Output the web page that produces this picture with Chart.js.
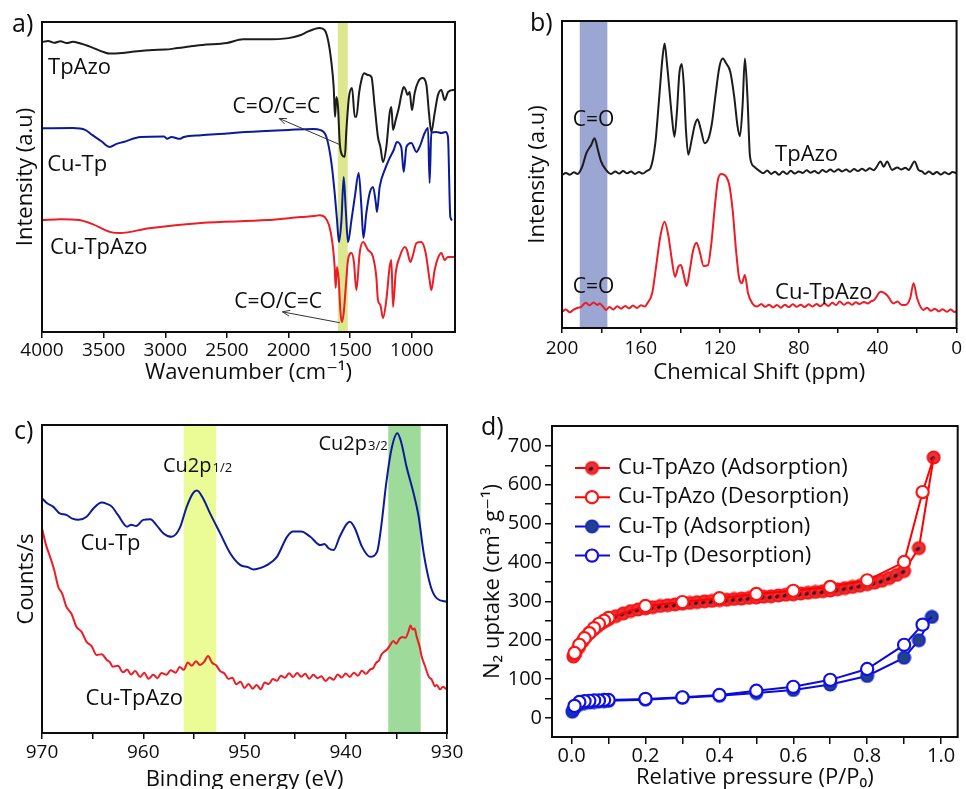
<!DOCTYPE html>
<html><head><meta charset="utf-8">
<script src="https://cdn.jsdelivr.net/npm/chart.js@4.4.1/dist/chart.umd.min.js"></script>
<style>
html,body{margin:0;padding:0;background:#fff;overflow:hidden;width:966px;height:789px;position:relative;}
canvas{position:absolute;}
#ca{left:0;top:0}
#cb{left:480px;top:0}
#cc{left:0;top:395px}
#cd{left:480px;top:395px}
</style></head><body>
<canvas id="ca" width="480" height="395"></canvas>
<canvas id="cb" width="486" height="395"></canvas>
<canvas id="cc" width="480" height="410"></canvas>
<canvas id="cd" width="486" height="410"></canvas>
<script>
// ---------- Panel a : FT-IR (wavenumber, intensity a.u.) ----------
const aTicks = [4000,3500,3000,2500,2000,1500,1000];
const aTickLabels = ['4000','3500','3000','2500','2000','1500','1000'];
const aBand = [1600,1520];
const aTpAzo = [[4000,93.5],[3950,93.9],[3900,93.3],[3850,93.8],[3800,93.2],[3750,93.6],[3700,93.2],[3600,91.9],[3500,90.3],[3450,89.8],[3350,90.0],[3250,90.5],[3100,91.0],[3000,91.1],[2900,91.6],[2700,92.6],[2500,93.2],[2370,94.4],[2200,94.4],[2000,94.8],[1900,95.8],[1850,96.8],[1800,97.6],[1747,98.1],[1707,97.4],[1680,94.2],[1652,86.8],[1634,79.0],[1623,69.4],[1612,75.8],[1599,72.6],[1585,61.0],[1566,57.1],[1544,56.5],[1531,65.2],[1510,75.8],[1485,78.7],[1463,69.4],[1450,69.4],[1428,77.1],[1409,81.3],[1388,83.5],[1356,82.9],[1328,82.3],[1301,72.6],[1275,62.9],[1255,59.7],[1234,54.8],[1207,59.7],[1180,70.6],[1166,72.6],[1153,65.2],[1131,68.4],[1104,72.6],[1085,76.5],[1066,79.0],[1050,78.1],[1036,76.5],[1018,77.4],[999,71.6],[977,77.1],[950,80.6],[915,81.9],[882,79.7],[861,70.6],[842,64.5],[815,70.6],[788,76.5],[761,78.1],[734,74.8],[707,77.4],[667,78.1],[650,78.1]];
const aCuTp = [[4000,65.7],[3750,65.8],[3650,65.2],[3590,63.5],[3520,61.6],[3450,59.7],[3400,60.6],[3340,61.3],[3200,62.9],[3010,63.1],[2985,62.3],[2950,62.9],[2880,62.3],[2850,62.9],[2710,63.5],[2500,64.0],[2350,64.5],[2000,65.2],[1800,65.5],[1747,65.2],[1693,62.9],[1652,54.5],[1626,44.8],[1607,36.1],[1591,29.0],[1571,36.1],[1553,50.0],[1536,39.4],[1518,29.0],[1490,36.1],[1463,43.5],[1431,51.3],[1409,40.3],[1393,30.3],[1369,38.4],[1342,44.8],[1315,46.8],[1293,41.9],[1283,38.7],[1261,46.8],[1220,52.3],[1180,56.1],[1147,58.7],[1121,61.3],[1085,59.4],[1066,51.6],[1044,59.7],[1004,61.0],[963,58.1],[937,59.7],[896,64.2],[869,65.8],[856,48.1],[842,64.2],[801,64.5],[761,64.2],[726,64.5],[707,62.9],[688,37.1],[672,36.1]];
const aCuTpAzo = [[4000,36.1],[3850,36.4],[3700,36.1],[3590,34.8],[3450,32.3],[3370,31.9],[3130,33.5],[2710,35.2],[2170,36.1],[1900,37.1],[1790,37.4],[1747,37.7],[1707,37.1],[1672,34.5],[1644,28.7],[1626,21.0],[1618,14.2],[1607,21.0],[1593,16.8],[1580,7.1],[1569,3.2],[1553,6.1],[1536,14.5],[1518,23.2],[1490,25.5],[1470,22.6],[1450,13.5],[1423,25.5],[1396,29.0],[1356,26.5],[1315,24.2],[1288,17.7],[1275,10.3],[1255,8.7],[1234,4.5],[1207,10.3],[1180,21.0],[1166,23.2],[1153,8.1],[1131,19.0],[1099,24.2],[1058,27.4],[1040,26.5],[1012,22.6],[991,24.8],[963,28.7],[923,29.0],[888,25.5],[856,16.8],[842,13.5],[815,20.0],[788,23.9],[761,25.5],[734,23.2],[707,24.2],[667,24.2],[650,24.2]];

// ---------- Panel b : 13C NMR (ppm, intensity a.u.) ----------
const bTicks = [200,180,160,140,120,100,80,60,40,20,0];
const bTickLabels = ['200','','160','','120','','80','','40','','0'];
const bBand = [191,177];
const bTpAzo = [[200,49.8],[198,50.5],[196,49.9],[194,50.7],[192,50.2],[191,50.9],[189.5,53.0],[187.7,56.9],[185.2,59.6],[183.5,61.8],[181.8,58.0],[180.2,54.3],[177.7,51.5],[175.2,50.2],[173,51.0],[171,50.3],[169,51.1],[167,50.4],[165,51.0],[163,50.2],[161,50.8],[159,50.3],[157,51.2],[155.2,52.0],[152.7,60.2],[150.7,75.3],[149,88.4],[148,92.7],[146.8,86.2],[145.7,78.6],[144.3,68.8],[143,62.3],[141.8,69.9],[140.5,83.0],[139.3,86.0],[138.2,78.6],[137.2,64.8],[136,56.4],[134.3,61.2],[132.7,66.1],[131.3,68.0],[129.7,64.8],[127.7,60.2],[125.7,61.8],[124,66.7],[122.3,75.3],[120.2,85.1],[118.5,87.8],[116.8,86.2],[114.7,83.5],[112.7,75.3],[111,65.6],[109.8,62.5],[108.5,72.1],[107.3,87.8],[106,75.3],[104.7,55.8],[102.7,52.6],[100,51.2],[98,50.4],[96,51.3],[94,50.2],[92,50.9],[90,49.9],[88,51.0],[86,50.2],[84,51.2],[82,50.3],[80,51.0],[78,50.5],[76,51.4],[74,50.6],[72,51.1],[70,50.4],[68,51.5],[66,50.8],[64,51.6],[62,50.9],[60,51.7],[58,51.0],[56,51.6],[54,50.9],[52,51.8],[50,51.1],[48,51.9],[46,51.2],[44,52.0],[42,51.4],[41,52.0],[38.5,54.2],[37,52.5],[35.2,54.2],[32.7,51.5],[30,52.3],[28,51.6],[26,52.2],[24.3,51.5],[21.3,54.2],[19.3,51.5],[17.5,51.0],[16,50.2],[14,51.0],[12,50.1],[10,50.8],[8,50.0],[6,50.7],[4,50.1],[2,50.8],[0,50.4]];
const bCuTpAzo = [[200,5.3],[198,6.0],[196,5.1],[194.3,5.9],[192,6.6],[190.2,6.9],[188,8.2],[186,7.4],[184,8.3],[182,7.5],[181,8.0],[179,6.8],[177.7,5.9],[176,6.8],[174,6.0],[172,7.1],[170,6.3],[168,7.2],[166,6.4],[164,7.3],[162,6.5],[160,7.4],[158,7.0],[156.8,8.0],[154.3,11.3],[152.3,20.0],[150.2,29.7],[148,34.6],[146,29.7],[144.3,22.1],[142.7,16.7],[141,20.0],[139.7,20.5],[138.3,17.3],[136.8,13.7],[135.2,18.9],[133.5,25.4],[131.8,27.8],[130.2,24.9],[128.2,20.2],[126,20.5],[124.3,27.6],[122.7,38.4],[121,48.2],[119.3,50.2],[116.8,49.3],[115.2,46.6],[113.5,38.4],[111.8,25.4],[110.2,16.2],[108.8,14.6],[107.3,17.3],[105.7,11.3],[103.5,8.0],[101,7.0],[99,7.8],[97,6.9],[95,7.6],[93,6.7],[91,7.5],[89,6.6],[87,7.6],[85,6.8],[83,7.7],[81,6.9],[79,7.6],[77,6.8],[75,7.7],[73,7.0],[71,7.8],[69,7.1],[67,8.0],[65,7.2],[63,8.2],[61,7.5],[59.3,8.6],[57,7.6],[55,8.3],[53,7.6],[51,8.4],[49.3,7.8],[47,8.5],[45,8.0],[43,8.8],[41.8,9.1],[38.5,11.8],[35.2,10.7],[32,8.0],[30,8.6],[28,7.6],[26,7.5],[23.5,9.7],[21.8,14.6],[20,9.7],[16.8,5.9],[15,6.6],[13,5.6],[11,6.3],[9,5.4],[7,6.1],[5,5.3],[3,6.0],[1,5.2],[0,5.4]];

// ---------- Panel c : XPS Cu2p (binding energy eV, counts) ----------
const cTicks = [970,965,960,955,950,945,940,935,930];
const cTickLabels = ['970','','960','','950','','940','','930'];
const cBand12 = [956.0,952.8];
const cBand32 = [935.8,932.6];
const cCuTp = [[970,76.2],[969.5,74.6],[968.9,73.5],[968.3,71.4],[967.6,70.8],[967,69.6],[966.4,69.2],[965.6,70.2],[964.9,73.0],[964.1,74.8],[963.6,74.4],[963.1,73.5],[962.5,70.8],[961.6,67.0],[961.2,67.6],[960.7,67.2],[960,69.2],[959.3,69.4],[958.7,67.5],[958,64.8],[957.2,63.7],[956.4,66.5],[955.7,73.5],[955.1,77.8],[954.7,78.7],[954.1,76.2],[953.4,71.3],[952.4,64.8],[951.4,58.3],[950.4,54.5],[949.7,53.9],[949.1,53.1],[948.4,53.6],[947.8,54.5],[946.8,57.2],[945.8,63.7],[945.2,65.4],[944.4,65.4],[943.5,63.7],[942.5,61.0],[942.1,61.4],[941.7,60.0],[941.2,59.4],[940.6,63.7],[939.9,67.9],[939.6,68.6],[939.1,66.5],[938.4,60.5],[937.6,57.2],[936.9,58.9],[936.5,67.0],[936,81.1],[935.5,91.9],[934.9,97.3],[934.5,94.1],[934,86.5],[933.3,77.8],[932.8,70.2],[932.3,58.3],[931.6,47.5],[931,43.7],[930,42.6]];
const cCuTpAzo = [[970,66.5],[969.6,61.0],[969.2,57.2],[968.8,53.0],[968.4,47.5],[968.0,45.2],[967.6,41.0],[967.1,38.8],[966.6,34.5],[966.1,32.9],[965.6,29.6],[965.1,28.2],[964.6,25.3],[964.1,25.6],[963.6,23.7],[963.3,23.0],[963,21.5],[962.5,21.8],[962,19.7],[961.6,20.6],[961.2,19.0],[960.8,20.1],[960.3,18.2],[959.9,19.6],[959.5,17.6],[959,18.9],[958.6,17.8],[958.2,19.5],[957.7,18.9],[957.3,20.4],[956.8,19.6],[956.4,21.4],[956,20.5],[955.6,22.9],[955.2,21.8],[954.8,23.3],[954.4,22.1],[954.0,23.0],[953.6,25.0],[953.2,22.8],[952.8,22.0],[952.4,20.1],[952.0,19.4],[951.6,17.6],[951.2,17.9],[950.8,15.8],[950.4,16.6],[950,14.6],[949.6,15.9],[949.2,14.4],[948.8,15.6],[948.4,14.2],[948,16.4],[947.6,15.9],[947.2,17.5],[946.8,17.0],[946.4,18.6],[946,17.9],[945.6,19.4],[945.2,18.2],[944.8,19.5],[944.4,18.3],[944,19.2],[943.6,17.6],[943.2,18.9],[942.8,17.8],[942.4,18.4],[942,16.9],[941.6,18.0],[941.2,17.3],[940.8,19.0],[940.4,18.0],[940,19.3],[939.6,18.2],[939.2,19.6],[938.8,18.6],[938.4,20.2],[938,19.2],[937.6,20.6],[937.3,21.0],[937,22.8],[936.7,23.6],[936.5,25.3],[936.2,26.4],[935.9,27.2],[935.6,28.6],[935.3,29.9],[935,29.0],[934.7,30.6],[934.4,31.2],[934.1,30.9],[933.8,33.0],[933.6,34.9],[933.4,33.6],[933.2,33.9],[933,31.3],[932.7,28.0],[932.5,24.8],[932.2,22.0],[931.8,18.3],[931.5,17.3],[931.2,15.2],[931,15.6],[930.7,14.2],[930.4,15.0],[930,14.0]];

// ---------- Panel d : N2 isotherms (P/P0, cm3 g-1) ----------
const dXTicks = [0,0.1,0.2,0.3,0.4,0.5,0.6,0.7,0.8,0.9,1.0];
const dXTickLabels = ['0.0','','0.2','','0.4','','0.6','','0.8','','1.0'];
const dYTicks = [0,50,100,150,200,250,300,350,400,450,500,550,600,650,700];
const dYTickLabels = ['0','','100','','200','','300','','400','','500','','600','','700'];
const dCuTpAzoAds = [[0.005,158],[0.01,165],[0.02,182],[0.03,197],[0.04,210],[0.05,220],[0.06,228],[0.07,236],[0.08,243],[0.09,249],[0.10,254],[0.12,262],[0.14,269],[0.16,275],[0.18,279],[0.20,282],[0.22,285],[0.24,288],[0.26,290],[0.28,292],[0.30,294],[0.32,296],[0.34,298],[0.36,300],[0.38,301],[0.40,303],[0.42,304],[0.44,306],[0.46,307],[0.48,309],[0.50,310],[0.52,312],[0.54,313],[0.56,315],[0.58,317],[0.60,318],[0.62,320],[0.64,322],[0.66,324],[0.68,326],[0.70,328],[0.72,331],[0.74,334],[0.76,337],[0.78,340],[0.80,344],[0.82,348],[0.84,353],[0.86,360],[0.88,368],[0.90,378],[0.94,437],[0.98,670]];
const dCuTpAzoDes = [[0.98,670],[0.95,581],[0.90,401],[0.80,354],[0.70,337],[0.60,327],[0.50,319],[0.40,308],[0.30,298],[0.20,288],[0.10,257],[0.088,250],[0.074,242],[0.061,231],[0.048,218],[0.035,205],[0.021,188],[0.008,167]];
const dCuTpAds = [[0.002,16],[0.005,22],[0.01,28],[0.02,34],[0.035,38],[0.05,40],[0.061,41],[0.074,42],[0.088,43],[0.10,44],[0.20,47],[0.30,52],[0.40,57],[0.50,64],[0.60,72],[0.70,86],[0.80,108],[0.90,155],[0.94,200],[0.975,260]];
const dCuTpDes = [[0.975,260],[0.95,240],[0.90,188],[0.80,126],[0.70,98],[0.60,80],[0.50,70],[0.40,59],[0.30,53],[0.20,49],[0.10,46],[0.088,46],[0.074,45],[0.061,45],[0.048,44],[0.035,43],[0.021,41],[0.008,31]];

// ---------- common ----------
const FONT = '"Open Sans", "DejaVu Sans", sans-serif';
const INK = '#0d0d0d';
Chart.defaults.font.family = FONT;
Chart.defaults.color = INK;
const pts = arr => arr.map(([x, y]) => ({x, y}));

function decor(d) {
  return {
    id: 'decor',
    beforeDatasetsDraw(chart) {
      const {ctx, chartArea: ca, scales: {x}} = chart;
      (d.bands || []).forEach(b => {
        const x1 = x.getPixelForValue(b.range[0]), x2 = x.getPixelForValue(b.range[1]);
        ctx.save();
        ctx.fillStyle = b.color;
        ctx.fillRect(Math.min(x1, x2), ca.top, Math.abs(x2 - x1), ca.bottom - ca.top);
        ctx.restore();
      });
    },
    afterDatasetsDraw(chart) {
      const {ctx, chartArea: ca, scales: {x, y}} = chart;
      ctx.save();
      (d.arrows || []).forEach(a => {
        const x0 = x.getPixelForValue(a.from[0]), y0 = y.getPixelForValue(a.from[1]);
        const x1 = x.getPixelForValue(a.to[0]), y1 = y.getPixelForValue(a.to[1]);
        ctx.strokeStyle = '#333'; ctx.lineWidth = 1;
        ctx.beginPath(); ctx.moveTo(x0, y0); ctx.lineTo(x1, y1); ctx.stroke();
        const ang = Math.atan2(y1 - y0, x1 - x0), L = 8, s = 0.38;
        ctx.beginPath();
        ctx.moveTo(x1 - L * Math.cos(ang - s), y1 - L * Math.sin(ang - s));
        ctx.lineTo(x1, y1);
        ctx.lineTo(x1 - L * Math.cos(ang + s), y1 - L * Math.sin(ang + s));
        ctx.stroke();
      });
      (d.texts || []).forEach(t => {
        const px = x.getPixelForValue(t.x), py = y.getPixelForValue(t.y);
        ctx.fillStyle = INK;
        ctx.font = t.size + 'px ' + FONT;
        ctx.textAlign = t.align || 'left';
        if (t.sub) {
          ctx.textBaseline = 'alphabetic';
          const yb = py + t.size * 0.36;
          ctx.fillText(t.t, px, yb);
          const w = ctx.measureText(t.t).width;
          ctx.font = t.subSize + 'px ' + FONT;
          ctx.fillText(t.sub, px + w + 1, yb);
        } else {
          ctx.textBaseline = 'middle';
          ctx.fillText(t.t, px, py);
        }
      });
      ctx.lineWidth = 2; ctx.strokeStyle = INK;
      ctx.strokeRect(ca.left, ca.top, ca.right - ca.left, ca.bottom - ca.top);
      if (d.panel) {
        ctx.font = '25px ' + FONT; ctx.fillStyle = INK;
        ctx.textAlign = 'left'; ctx.textBaseline = 'middle';
        ctx.fillText(d.panel.t, d.panel.px, d.panel.py);
      }
      ctx.restore();
    }
  };
}

function specChart(id, c) {
  return new Chart(document.getElementById(id), {
    type: 'line',
    data: {datasets: c.series.map(s => ({
      data: pts(s.data), borderColor: s.color, borderWidth: 2, pointRadius: 0,
      cubicInterpolationMode: 'monotone', fill: false, borderJoinStyle: 'round'
    }))},
    options: {
      responsive: false, animation: false, devicePixelRatio: 1,
      events: [],
      layout: {padding: c.pad},
      plugins: {legend: {display: false}, tooltip: {enabled: false}},
      scales: {
        x: {
          type: 'linear', reverse: true, min: c.xmin, max: c.xmax,
          afterBuildTicks: s => { s.ticks = c.ticks.map(v => ({value: v})); },
          afterFit: s => { s.height = c.xh; },
          ticks: {autoSkip: false, maxRotation: 0, color: INK, font: {size: 19}, padding: c.tickPad,
                  callback: (v, i) => c.labels[i]},
          grid: {display: true, drawOnChartArea: false, drawTicks: true, tickLength: c.tl, color: INK, lineWidth: 1.5},
          border: {display: false},
          title: {display: true, text: c.xtitle, color: INK, font: {size: 22}, padding: {top: 0, bottom: c.xtPad}}
        },
        y: {
          min: 0, max: 100,
          afterFit: s => { s.width = c.yw; },
          ticks: {display: false}, grid: {display: false}, border: {display: false},
          title: {display: true, text: c.ytitle, color: INK, font: {size: 22}, padding: {top: c.ytPad, bottom: 0}}
        }
      }
    },
    plugins: [decor(c.decor)]
  });
}

const BLACK = '#1c1c1c', NAVY = '#0b1a9a', RED = '#ee1c25';

specChart('ca', {
  series: [{data: aTpAzo, color: BLACK}, {data: aCuTp, color: NAVY}, {data: aCuTpAzo, color: RED}],
  xmin: 650, xmax: 4000, ticks: aTicks, labels: aTickLabels,
  pad: {left: 0, right: 25, top: 22, bottom: 0}, xh: 63, yw: 42, tl: 6, tickPad: 1, xtPad: 9, ytPad: 13,
  xtitle: 'Wavenumber (cm\u207B\u00B9)', ytitle: 'Intensity (a.u)',
  decor: {
    bands: [{range: aBand, color: '#dde88c'}],
    arrows: [{from: [1588, 60.5], to: [2077, 68.9]}, {from: [1585, 3.0], to: [2050, 6.5]}],
    texts: [
      {t: 'TpAzo', x: 3951, y: 85.2, size: 22},
      {t: 'Cu-Tp', x: 3958, y: 53.9, size: 22},
      {t: 'Cu-TpAzo', x: 3935, y: 27.1, size: 22},
      {t: 'C=O/C=C', x: 2098, y: 72.6, size: 21, align: 'center'},
      {t: 'C=O/C=C', x: 2085, y: 9.7, size: 21, align: 'center'}
    ],
    panel: {t: 'a)', px: 12, py: 25}
  }
});

specChart('cb', {
  series: [{data: bTpAzo, color: BLACK}, {data: bCuTpAzo, color: RED}],
  xmin: 0, xmax: 200, ticks: bTicks, labels: bTickLabels,
  pad: {left: 0, right: 5, top: 21, bottom: 0}, xh: 67, yw: 82, tl: 5, tickPad: 4, xtPad: 9, ytPad: 45,
  xtitle: 'Chemical Shift (ppm)', ytitle: 'Intensity (a.u)',
  decor: {
    bands: [{range: bBand, color: '#9ba6d3'}],
    texts: [
      {t: 'C=O', x: 184, y: 67.8, size: 21, align: 'center'},
      {t: 'C=O', x: 184, y: 13.4, size: 21, align: 'center'},
      {t: 'TpAzo', x: 92, y: 56.4, size: 22},
      {t: 'Cu-TpAzo', x: 92, y: 11.4, size: 22}
    ],
    panel: {t: 'b)', px: 50, py: 24}
  }
});

specChart('cc', {
  series: [{data: cCuTp, color: NAVY}, {data: cCuTpAzo, color: RED}],
  xmin: 930, xmax: 970, ticks: cTicks, labels: cTickLabels,
  pad: {left: 0, right: 33, top: 30, bottom: 0}, xh: 72, yw: 42, tl: 6, tickPad: 2, xtPad: 12, ytPad: 14,
  xtitle: 'Binding energy (eV)', ytitle: 'Counts/s',
  decor: {
    bands: [{range: cBand12, color: '#ebfb96'}, {range: cBand32, color: '#9edb9b'}],
    texts: [
      {t: 'Cu2p', sub: '1/2', subSize: 13, x: 958.05, y: 87.0, size: 20},
      {t: 'Cu2p', sub: '3/2', subSize: 13, x: 942.7, y: 94.2, size: 20},
      {t: 'Cu-Tp', x: 966.2, y: 61.6, size: 22},
      {t: 'Cu-TpAzo', x: 965.7, y: 11.1, size: 22}
    ],
    panel: {t: 'c)', px: 14, py: 37}
  }
});

// ---------- Panel d ----------
function ball(fill, edge, spot) {
  const c = document.createElement('canvas'); c.width = c.height = 15;
  const g = c.getContext('2d');
  g.beginPath(); g.arc(7.5, 7.5, 6.1, 0, Math.PI * 2);
  g.fillStyle = fill; g.fill();
  g.lineWidth = 1.8; g.strokeStyle = edge; g.stroke();
  if (spot) { g.beginPath(); g.ellipse(6.3, 8.4, 2.5, 1.7, -0.5, 0, Math.PI * 2); g.fillStyle = spot; g.fill(); }
  return c;
}
const redBall = ball('#e2343c', '#ff1010', 'rgba(35,0,0,0.8)');
const blueBall = ball('#24408a', '#1224d8', null);

const dLegend = {
  id: 'dLegend',
  afterDraw(chart) {
    const {ctx, chartArea: ca} = chart;
    ctx.save();
    chart.data.datasets.forEach((ds, i) => {
      const yy = ca.top + 42 + i * 29.2;
      const x0 = ca.left + 23, x1 = ca.left + 58, xm = ca.left + 40;
      ctx.strokeStyle = ds.borderColor; ctx.lineWidth = 2;
      ctx.beginPath(); ctx.moveTo(x0, yy); ctx.lineTo(x1, yy); ctx.stroke();
      if (ds.legendImage) {
        ctx.drawImage(ds.legendImage, xm - 7.5, yy - 7.5);
      } else {
        ctx.beginPath(); ctx.arc(xm, yy, 6.1, 0, Math.PI * 2);
        ctx.fillStyle = '#fff'; ctx.fill();
        ctx.lineWidth = 2.2; ctx.strokeStyle = ds.pointBorderColor; ctx.stroke();
      }
      ctx.fillStyle = INK; ctx.font = '22px ' + FONT;
      ctx.textAlign = 'left'; ctx.textBaseline = 'middle';
      ctx.fillText(ds.label, ca.left + 66, yy);
    });
    ctx.restore();
  }
};

new Chart(document.getElementById('cd'), {
  type: 'line',
  data: {datasets: [
    {label: 'Cu-TpAzo (Adsorption)', data: pts(dCuTpAzoAds), borderColor: '#ff0000', borderWidth: 2,
     pointStyle: redBall, legendImage: redBall, order: 4},
    {label: 'Cu-TpAzo (Desorption)', data: pts(dCuTpAzoDes), borderColor: '#ff0000', borderWidth: 2,
     pointStyle: 'circle', pointRadius: ctx => ctx.dataIndex === 0 ? 0 : 6.1,
     pointBackgroundColor: '#ffffff', pointBorderColor: '#ff1414', pointBorderWidth: 2.2, order: 3},
    {label: 'Cu-Tp (Adsorption)', data: pts(dCuTpAds), borderColor: '#0a0ae0', borderWidth: 2,
     pointStyle: blueBall, legendImage: blueBall, order: 2},
    {label: 'Cu-Tp (Desorption)', data: pts(dCuTpDes), borderColor: '#0a0ae0', borderWidth: 2,
     pointStyle: 'circle', pointRadius: ctx => ctx.dataIndex === 0 ? 0 : 6.1,
     pointBackgroundColor: '#ffffff', pointBorderColor: '#1010e6', pointBorderWidth: 2.2, order: 1}
  ]},
  options: {
    responsive: false, animation: false, devicePixelRatio: 1, events: [],
    layout: {padding: {left: 0, right: 1, top: 31, bottom: 0}},
    plugins: {legend: {display: false}, tooltip: {enabled: false}},
    elements: {line: {tension: 0}},
    scales: {
      x: {
        type: 'linear', min: -0.053, max: 1.045,
        afterBuildTicks: s => { s.ticks = dXTicks.map(v => ({value: v})); },
        afterFit: s => { s.height = 68; },
        ticks: {autoSkip: false, maxRotation: 0, color: INK, font: {size: 20}, padding: 0,
                callback: (v, i) => dXTickLabels[i]},
        grid: {display: true, drawOnChartArea: false, drawTicks: true, tickLength: 7, color: INK, lineWidth: 1.5},
        border: {display: false},
        title: {display: true, text: 'Relative pressure (P/P\u2080)', color: INK, font: {size: 22}, padding: {top: 0, bottom: 14}}
      },
      y: {
        type: 'linear', min: -49, max: 751,
        afterBuildTicks: s => { s.ticks = dYTicks.map(v => ({value: v})); },
        afterFit: s => { s.width = 72; },
        ticks: {autoSkip: false, color: INK, font: {size: 20}, padding: 3,
                callback: (v, i) => dYTickLabels[i]},
        grid: {display: true, drawOnChartArea: false, drawTicks: true, tickLength: 7, color: INK, lineWidth: 1.5},
        border: {display: false},
        title: {display: true, text: 'N\u2082 uptake (cm\u00B3 g\u207B\u00B9)', color: INK, font: {size: 22}, padding: {top: 0, bottom: 0}}
      }
    }
  },
  plugins: [decor({panel: {t: 'd)', px: 1, py: 33}}), dLegend]
});
</script>
</body></html>
